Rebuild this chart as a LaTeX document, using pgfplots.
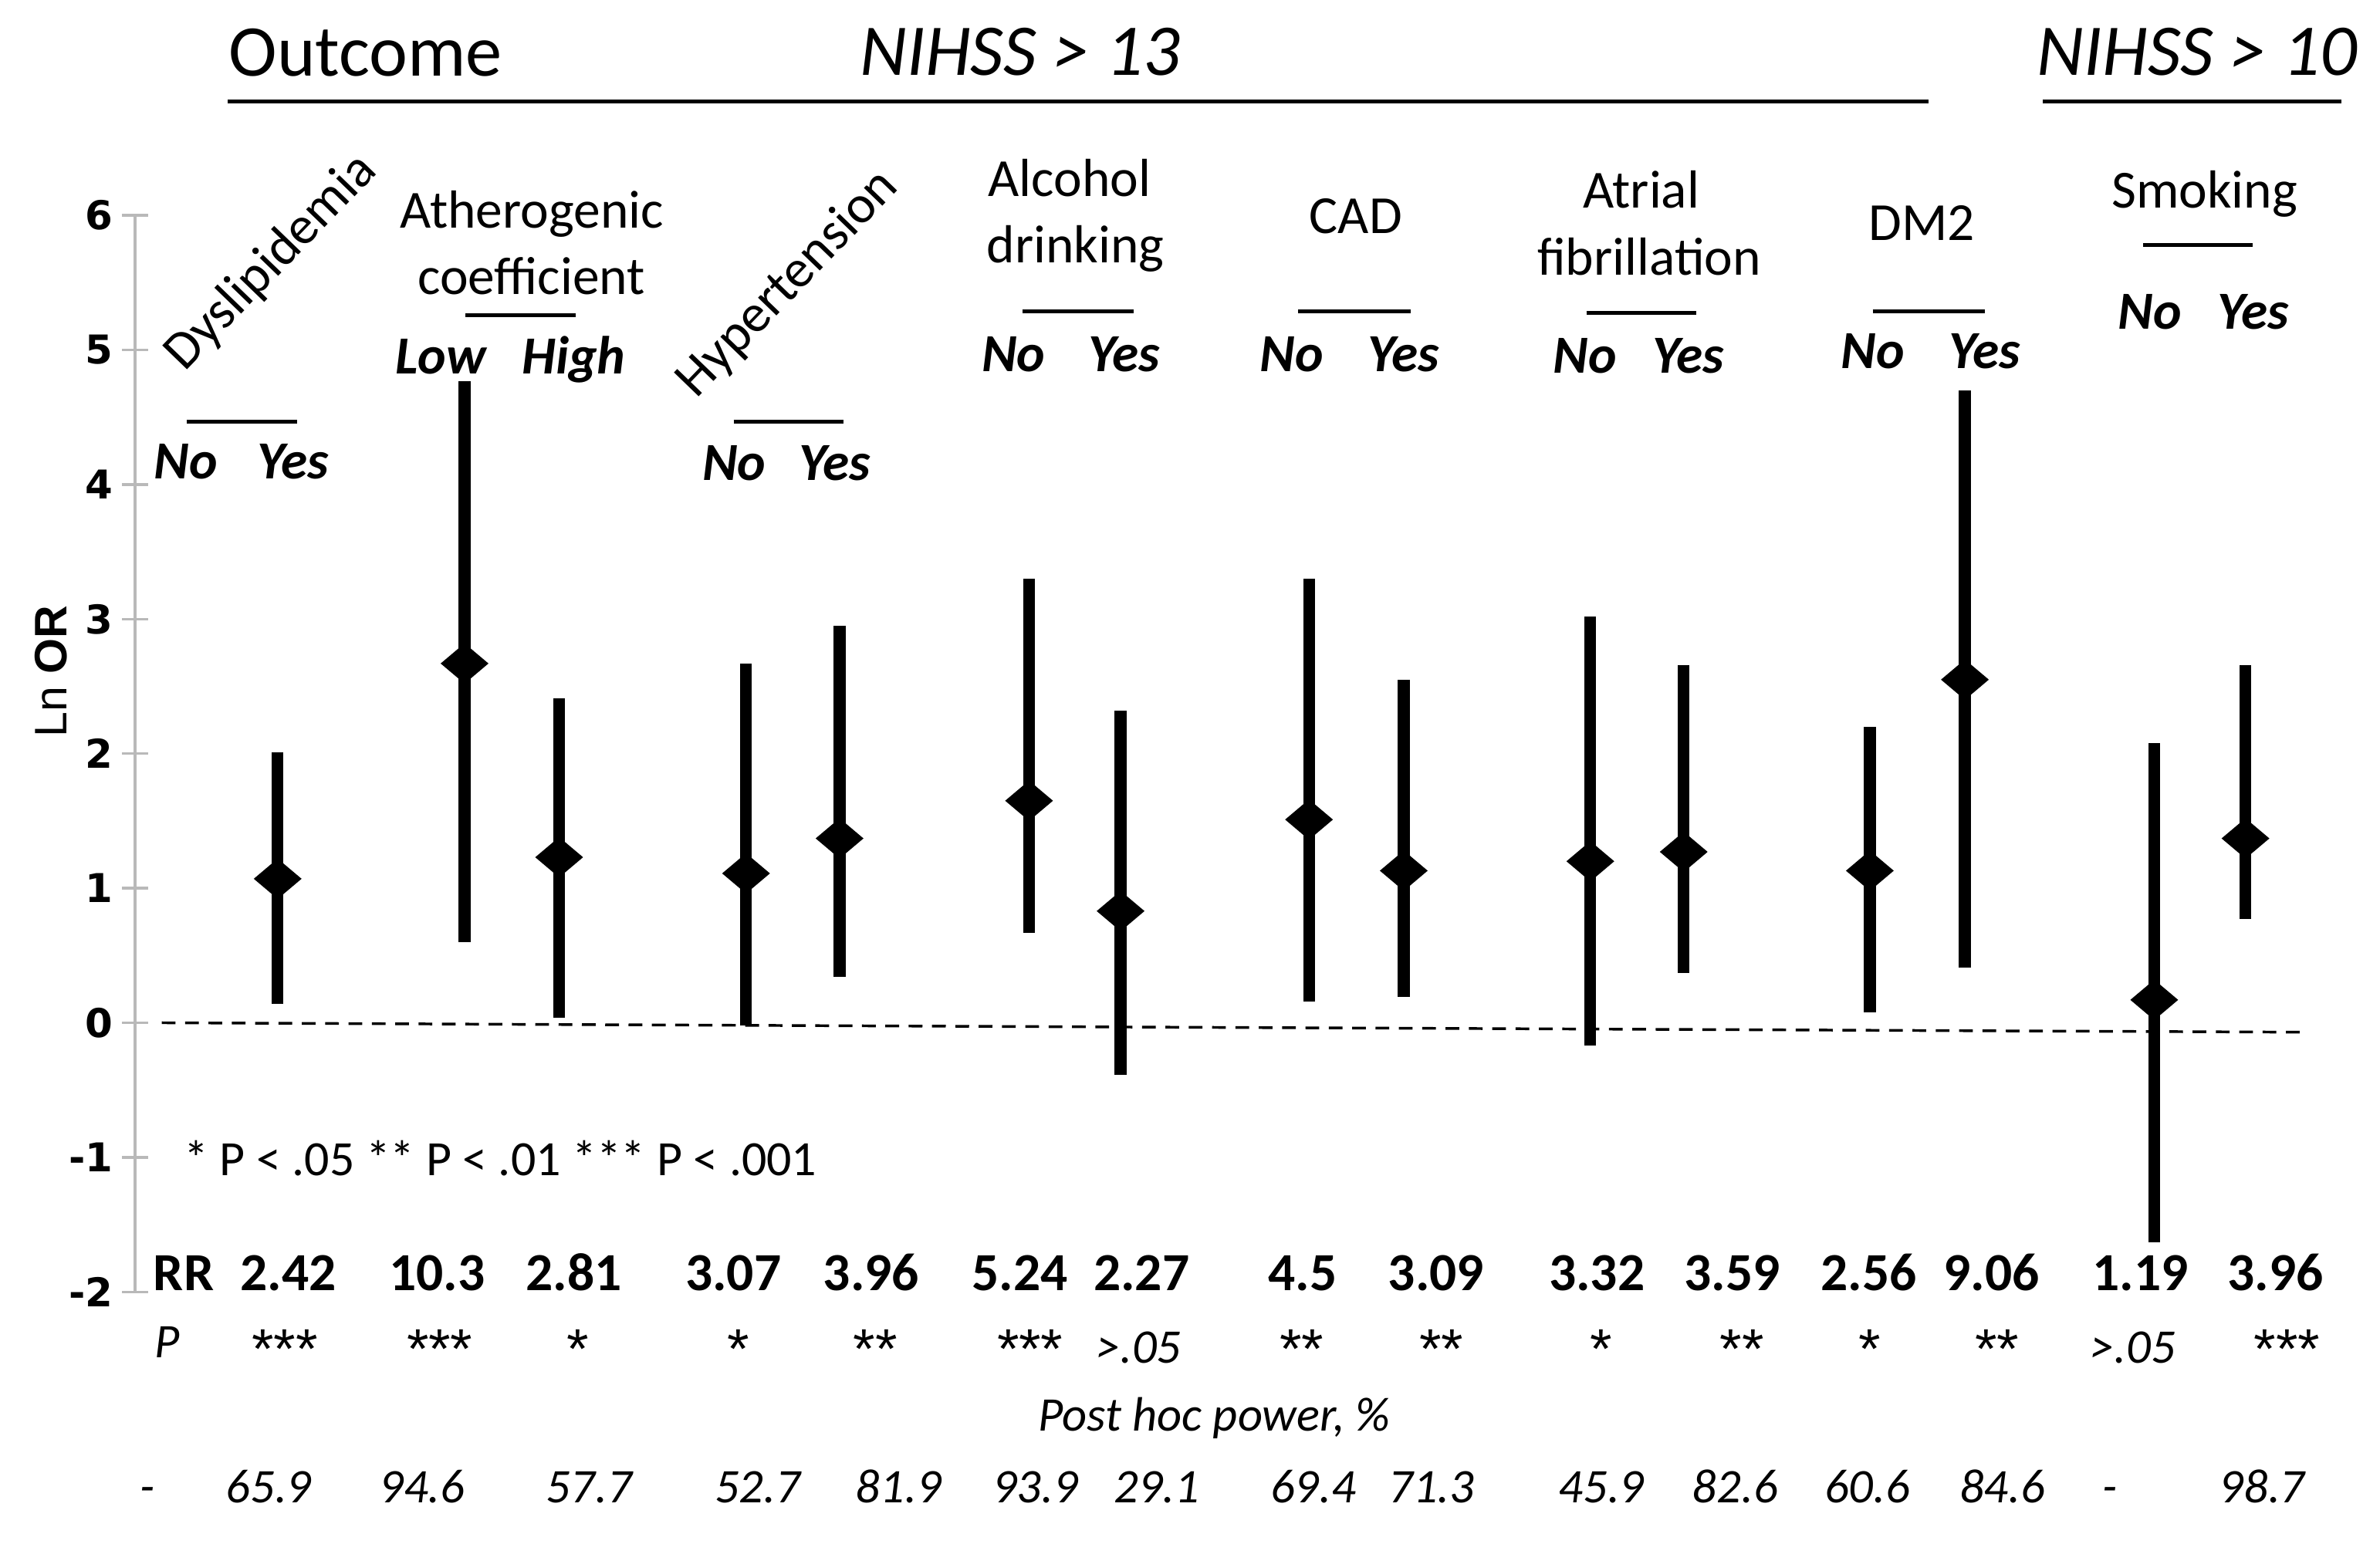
\documentclass[border=0pt]{standalone}
\usepackage{fontspec}
\setmainfont{Carlito}
\newfontfamily\arialfont{Liberation Sans}
\newfontfamily\tickfont{DejaVu Sans}
\usepackage{pgfplots}
\pgfplotsset{compat=1.18}

% font shortcuts
\newcommand\fbig{\fontsize{13.6}{16}\selectfont}
\newcommand\fcat{\fontsize{10}{12}\selectfont}
\newcommand\fny{\fontsize{10}{12}\selectfont\bfseries\itshape}
\newcommand\frr{\fontsize{10}{12}\selectfont\bfseries}
\newcommand\fit{\fontsize{9}{11}\selectfont\itshape}
\newcommand\fast{\arialfont\fontsize{10.5}{12}\selectfont\itshape}
\newcommand\fnote{\fontsize{9.2}{11}\selectfont}

% text at (x, baseline row in picture pixels)
\newcommand\T[4][]{\node[anchor=base,inner sep=0pt,#1] at (axis cs:#2,{py(#3)}) {#4};}
\newcommand\grpbar[3]{\draw[line width=0.75pt] (axis cs:#2,{py(#1)}) -- (axis cs:#3,{py(#1)});}

\begin{document}
\begin{tikzpicture}[declare function={py(\p)=-2+(846.9-\p)/88.21;}]
\begin{axis}[
    scale only axis,
    width=14.715cm, height=7.057cm,
    xmin=88.5, xmax=1560, ymin=-2, ymax=6,
    clip=false,
    axis x line=none, axis y line=left,
    axis line style={draw=gray!55, line width=0.5pt, -},
    ytick={-2,-1,...,6},
    tick align=center, major tick length=1.7mm,
    y tick style={draw=gray!55, line width=0.5pt},
    yticklabel style={font=\tickfont\bfseries\fontsize{7.4}{8}\selectfont, black, inner sep=1.5pt},
    /pgf/number format/assume math mode=true,
    ylabel={Ln \textbf{OR}},
    ylabel style={font=\arialfont\fontsize{8.5}{9}\selectfont,
        at={(axis description cs:-0.0373,0.5766)}, anchor=center},
]
% reference line at zero
\addplot[black, line width=0.5pt, dash pattern=on 0.9mm off 0.63mm]
    coordinates {(106,0) (1508,-0.07)};

% Ln OR with 95% CI
\addplot[only marks, mark=diamond*, mark size=3.5pt,
    mark options={xscale=1.58, fill=black, draw=black},
    error bars/.cd, y dir=both, y explicit, error mark=none,
    error bar style={line width=2.2pt, black}]
  table[x=x, y=y, y error plus expr=\thisrow{hi}-\thisrow{y},
        y error minus expr=\thisrow{y}-\thisrow{lo}] {
x       y      lo      hi
182.0   1.07   0.14    2.01
304.5   2.67   0.60    4.77
366.5   1.23   0.04    2.41
489.0   1.11   -0.02   2.67
550.3   1.37   0.34    2.95
674.5   1.65   0.67    3.30
734.5   0.83   -0.39   2.32
858.0   1.51   0.16    3.30
920.1   1.13   0.19    2.55
1042.4  1.20   -0.17   3.02
1103.6  1.27   0.37    2.66
1225.6  1.13   0.08    2.20
1287.9  2.55   0.41    4.70
1412.0  0.17   -1.63   2.08
1471.8  1.37   0.77    2.66
};

% outcome header
\T[anchor=base west]{149.3}{50}{\fbig Outcome}
\T{668.5}{49.5}{\fbig\itshape NIHSS > 13}
\T{1440}{49.5}{\fbig\itshape NIHSS > 10}
\draw[line width=0.7pt] (axis cs:149.3,{py(66.7)}) -- (axis cs:1264,{py(66.7)});
\draw[line width=0.7pt] (axis cs:1338.8,{py(66.7)}) -- (axis cs:1534.7,{py(66.7)});

% variable names
\node[rotate=46, inner sep=0pt] at (axis cs:178,{py(172)}) {\fcat Dyslipidemia};
\T{348.6}{149.6}{\fcat Atherogenic}
\T{348.3}{192.9}{\fcat coefficient}
\node[rotate=46, inner sep=0pt] at (axis cs:516.4,{py(186.3)}) {\fcat Hypertension};
\T{701}{128.5}{\fcat Alcohol}
\T{705}{172}{\fcat drinking}
\T{888.7}{152.8}{\fcat CAD}
\T{1075.7}{136.4}{\fcat Atrial}
\T{1081}{180.5}{\fcat fibrillation}
\T{1259.7}{157.4}{\fcat DM2}
\T{1444.9}{136.4}{\fcat Smoking}

% group bars
\grpbar{276.5}{122.4}{194.5}
\grpbar{206.5}{305}{377.2}
\grpbar{276.5}{480.8}{552.9}
\grpbar{204}{670}{743.3}
\grpbar{204}{851}{924.6}
\grpbar{205.3}{1039.8}{1112}
\grpbar{204}{1227.4}{1301}
\grpbar{160.6}{1404.7}{1476.5}

% levels
\T{121.9}{314.1}{\fny No}   \T{192.1}{314.1}{\fny Yes}
\T{288.9}{245.2}{\fny Low}  \T{376}{245.2}{\fny High}
\T{481.2}{315}{\fny No}     \T{547.3}{315}{\fny Yes}
\T{664.4}{243.5}{\fny No}   \T{737}{243.5}{\fny Yes}
\T{846.7}{243.5}{\fny No}   \T{920}{243.5}{\fny Yes}
\T{1038.9}{244.5}{\fny No}  \T{1106.7}{244.5}{\fny Yes}
\T{1227.7}{241.4}{\fny No}  \T{1300.7}{241.4}{\fny Yes}
\T{1409}{215.8}{\fny No}    \T{1476.8}{215.8}{\fny Yes}

% significance key
\T[anchor=base west]{120}{770.5}{\fnote * P < .05 ** P < .01 *** P < .001}

% RR row
\T{120.4}{846}{\frr RR}
\T{189}{846}{\frr 2.42}    \T{286.6}{846}{\frr 10.3}  \T{376.1}{846}{\frr 2.81}
\T{480.6}{846}{\frr 3.07}  \T{571.1}{846}{\frr 3.96}  \T{668.6}{846}{\frr 5.24}
\T{748.2}{846}{\frr 2.27}  \T{853.7}{846}{\frr 4.5}   \T{941.3}{846}{\frr 3.09}
\T{1046.7}{846}{\frr 3.32} \T{1135.3}{846}{\frr 3.59} \T{1224.8}{846}{\frr 2.56}
\T{1305.4}{846}{\frr 9.06} \T{1403}{846}{\frr 1.19}   \T{1491.5}{846}{\frr 3.96}

% P row
\T{109.5}{890}{\fit P}
\T{185.1}{897}{\fast ***}  \T{286.6}{897}{\fast ***}  \T{377.1}{897}{\fast *}
\T{482.6}{897}{\fast *}    \T{572.1}{897}{\fast **}   \T{673.6}{897}{\fast ***}
\T{746.3}{893.5}{\fit >.05} \T{851.7}{897}{\fast **}  \T{943.3}{897}{\fast **}
\T{1047.7}{897}{\fast *}   \T{1140.3}{897}{\fast **}  \T{1223.9}{897}{\fast *}
\T{1307.4}{897}{\fast **}  \T{1398}{893.5}{\fit >.05} \T{1497.5}{897}{\fast ***}

% post hoc power
\T{796}{938}{\fit Post hoc power, \%}
\T{96.5}{985}{\fit -}
\T{176.1}{985}{\fit 65.9}  \T{276.6}{985}{\fit 94.6}  \T{386.1}{985}{\fit 57.7}
\T{496.5}{985}{\fit 52.7}  \T{589}{985}{\fit 81.9}    \T{678.6}{985}{\fit 93.9}
\T{758.2}{985}{\fit 29.1}  \T{860.7}{985}{\fit 69.4}  \T{938.3}{985}{\fit 71.3}
\T{1049.7}{985}{\fit 45.9} \T{1137.3}{985}{\fit 82.6} \T{1223.9}{985}{\fit 60.6}
\T{1312.4}{985}{\fit 84.6} \T{1383}{985}{\fit -}      \T{1482.6}{985}{\fit 98.7}

% picture frame
\path (axis cs:0,{py(1012)}) rectangle (axis cs:1560,{py(0)});
\end{axis}
\end{tikzpicture}
\end{document}
